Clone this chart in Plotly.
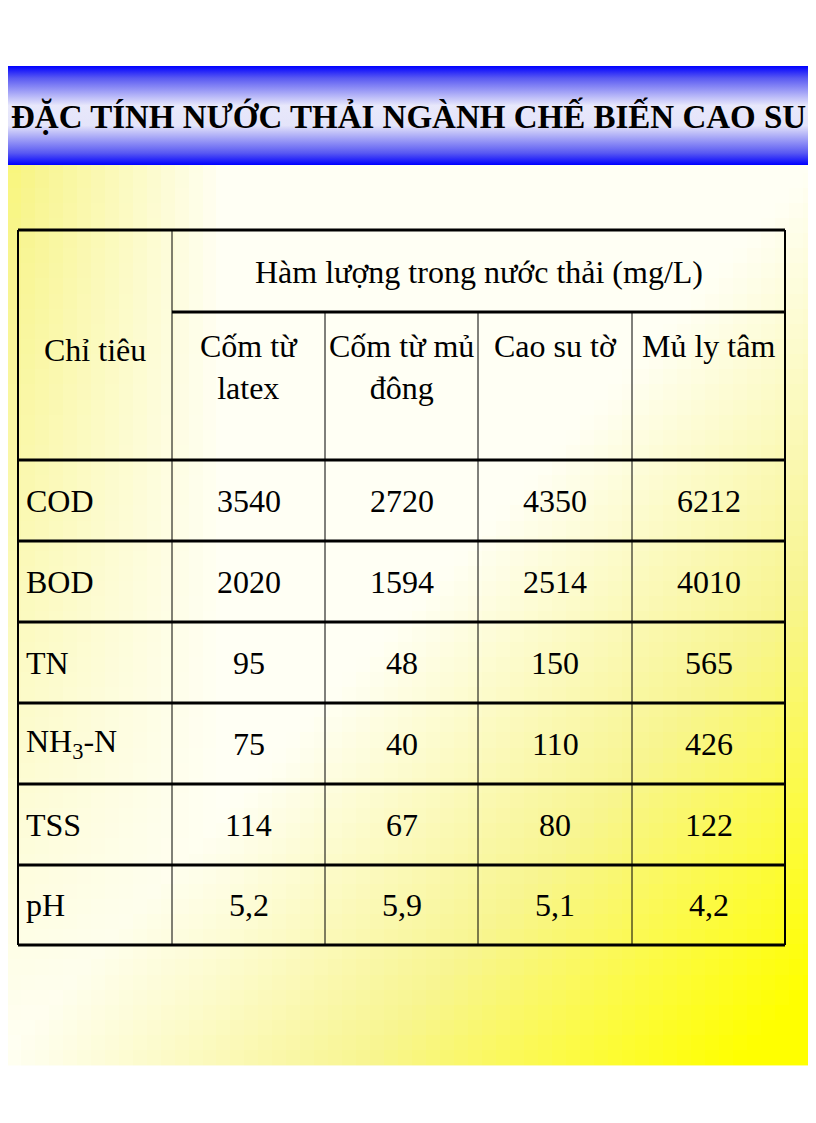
import numpy as np
import plotly.graph_objects as go

W, H = 816, 1123
OFF = 8
title = "ĐẶC TÍNH NƯỚC THẢI NGÀNH CHẾ BIẾN CAO SU"
group_header = "Hàm lượng trong nước thải (mg/L)"
first_header = "Chỉ tiêu"
columns = ["Cốm từ<br>latex", "Cốm từ mủ<br>đông", "Cao su tờ", "Mủ ly tâm"]
rows = ["COD", "BOD", "TN", "NH<sub>3</sub>-N", "TSS", "pH"]
values = [
    ["3540", "2720", "4350", "6212"],
    ["2020", "1594", "2514", "4010"],
    ["95", "48", "150", "565"],
    ["75", "40", "110", "426"],
    ["114", "67", "80", "122"],
    ["5,2", "5,9", "5,1", "4,2"],
]

col_x = [18, 172, 325, 478, 632, 785]
row_y = [230, 312, 460, 541, 622, 703, 784, 865, 945]

fig = go.Figure()

# yellow gradient background
gx = np.linspace(0, W + OFF, 60)
gy = np.linspace(165, 1058, 60)
X, Y = np.meshgrid(gx, gy)
u, v = X / W, (Y - 165) / (1058 - 165)
z = np.clip((u + v - 1.0) * 1.1, 0, 1) + np.clip(0.6 - u * 2.2, 0, 1) * (1 - v) * 1.0
z = np.clip(z, 0, 1)
fig.add_trace(go.Heatmap(x=gx, y=gy, z=z, zmin=0, zmax=1, showscale=False, hoverinfo="skip",
                         colorscale=[[0, "#fffff4"], [0.5, "#f8f590"], [1, "#ffff00"]]))

# blue header band with vertical gradient
fig.add_trace(go.Scatter(x=[0, W + OFF, W + OFF, 0, 0], y=[66, 66, 165, 165, 66], mode="lines", fill="toself",
                         line=dict(width=0), hoverinfo="skip", showlegend=False,
                         fillgradient=dict(type="vertical",
                                           colorscale=[[0, "#0000ff"], [0.12, "#5858f2"], [0.4, "#e4e4fa"],
                                                       [0.6, "#e8e8fb"], [0.88, "#5858f2"], [1, "#0000ff"]])))

shapes = []
shapes.append(dict(type="rect", x0=col_x[0], x1=col_x[-1], y0=row_y[0], y1=row_y[-1],
                   fillcolor="rgba(255,255,255,0.94)", line=dict(width=0), layer="below"))
for i, y in enumerate(row_y):
    x0 = col_x[1] if i == 1 else col_x[0]
    shapes.append(dict(type="line", x0=x0, x1=col_x[-1], y0=y, y1=y, line=dict(color="black", width=3)))
for j, x in enumerate(col_x):
    y0 = row_y[1] if j in (2, 3, 4) else row_y[0]
    w = 2 if j in (0, len(col_x) - 1) else 1
    shapes.append(dict(type="line", x0=x, x1=x, y0=y0, y1=row_y[-1], line=dict(color="black", width=w)))

F = "Liberation Serif"
ann = []
ann.append(dict(x=W / 2, y=116, text="<b>" + title + "</b>", showarrow=False,
                font=dict(family=F, size=33, color="black")))
ann.append(dict(x=(col_x[0] + col_x[1]) / 2, y=350, text=first_header, showarrow=False,
                font=dict(family=F, size=32, color="black")))
ann.append(dict(x=(col_x[1] + col_x[-1]) / 2, y=272, text=group_header, showarrow=False,
                font=dict(family=F, size=32, color="black")))
for j, c in enumerate(columns):
    ann.append(dict(x=(col_x[j + 1] + col_x[j + 2]) / 2, y=row_y[1] + 14, text=c, showarrow=False,
                    yanchor="top", font=dict(family=F, size=32, color="black")))
for i, r in enumerate(rows):
    yc = (row_y[i + 2] + row_y[i + 3]) / 2
    ann.append(dict(x=col_x[0] + 6, y=yc, text=r, showarrow=False, xanchor="left",
                    font=dict(family=F, size=32, color="black")))
    for j, val in enumerate(values[i]):
        ann.append(dict(x=(col_x[j + 1] + col_x[j + 2]) / 2, y=yc, text=val, showarrow=False,
                        font=dict(family=F, size=32, color="black")))

fig.update_layout(width=W, height=H, margin=dict(l=0, r=0, t=0, b=0),
                  paper_bgcolor="white", plot_bgcolor="white", showlegend=False,
                  xaxis=dict(range=[OFF, W + OFF], visible=False, fixedrange=True),
                  yaxis=dict(range=[H + OFF, OFF], visible=False, fixedrange=True),
                  shapes=shapes, annotations=ann)
fig.write_html("out.html")
